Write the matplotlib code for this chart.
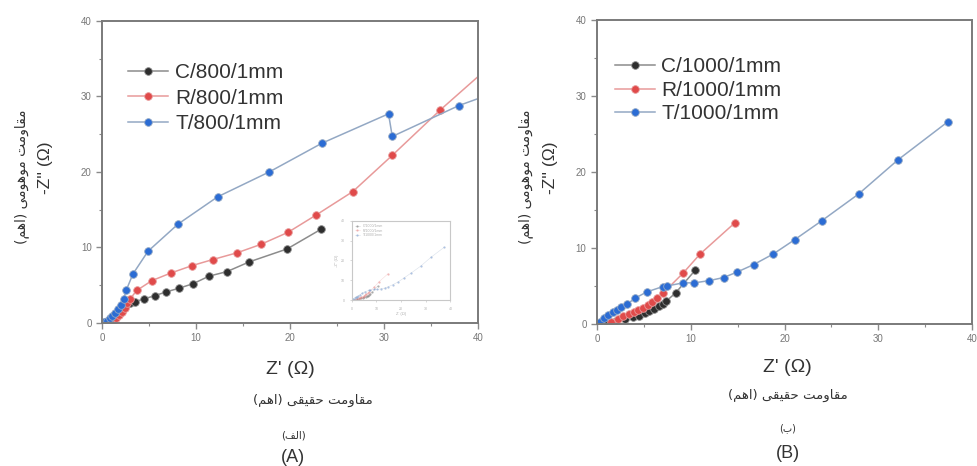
import matplotlib.pyplot as plt

# Panel A: 800 series
c800_x = [0.3, 0.6, 0.9, 1.2, 1.5, 1.8, 2.1, 2.5, 3.0, 3.5, 4.5, 5.6, 6.8, 8.2, 9.7, 11.4, 13.3, 15.7, 19.7, 23.3]
c800_y = [0.1, 0.3, 0.5, 0.8, 1.1, 1.5, 1.9, 2.3, 2.6, 2.8, 3.2, 3.6, 4.1, 4.6, 5.2, 6.2, 6.8, 8.1, 9.8, 12.4]

r800_x = [0.8, 1.2, 1.5, 1.8, 2.1, 2.4, 2.7, 3.0, 3.7, 5.3, 7.3, 9.6, 11.8, 14.4, 16.9, 19.8, 22.8, 26.7, 30.9, 36.0, 42.0]
r800_y = [0.1, 0.3, 0.6, 1.0, 1.5, 2.0, 2.6, 3.2, 4.3, 5.6, 6.6, 7.6, 8.4, 9.3, 10.4, 12.0, 14.3, 17.4, 22.2, 28.2, 34.8]

t800_x = [0.2, 0.5, 0.8, 1.1, 1.4, 1.7, 2.0, 2.3, 2.6, 3.3, 4.9, 8.1, 12.3, 17.8, 23.4, 30.5, 30.9, 38.0, 42.0]
t800_y = [0.1, 0.3, 0.6, 0.9, 1.3, 1.8, 2.4, 3.2, 4.4, 6.5, 9.5, 13.1, 16.7, 20.0, 23.8, 27.7, 24.7, 28.8, 30.6]

# Panel B: 1000 series
c1000_x = [1.0, 2.0, 3.0, 3.8, 4.5, 5.1, 5.6, 6.1, 6.6, 7.0, 7.4, 8.4, 10.5]
c1000_y = [0.1, 0.4, 0.7, 0.9, 1.1, 1.4, 1.7, 2.0, 2.3, 2.6, 3.0, 4.1, 7.1]

r1000_x = [1.5, 2.2, 2.8, 3.4, 3.9, 4.4, 4.9, 5.4, 5.9, 6.4, 7.0, 9.2, 11.0, 14.7]
r1000_y = [0.3, 0.7, 1.0, 1.3, 1.5, 1.8, 2.1, 2.5, 2.9, 3.4, 4.0, 6.7, 9.2, 13.3]

t1000_x = [0.3, 0.7, 1.2, 1.7, 2.1, 2.6, 3.2, 4.1, 5.3, 7.0, 7.5, 9.2, 10.4, 12.0, 13.5, 14.9, 16.7, 18.8, 21.1, 24.0, 27.9, 32.1, 37.4]
t1000_y = [0.3, 0.8, 1.2, 1.5, 1.8, 2.2, 2.6, 3.4, 4.2, 4.9, 5.0, 5.4, 5.4, 5.7, 6.1, 6.8, 7.8, 9.2, 11.1, 13.6, 17.1, 21.6, 26.6]

labels_a = ["C/800/1mm", "R/800/1mm", "T/800/1mm"]
labels_b = ["C/1000/1mm", "R/1000/1mm", "T/1000/1mm"]

# marker colour, line colour
styles = [
    ("#2e2e2e", "#8c8c8c"),
    ("#e04a4a", "#e89a9a"),
    ("#2b6cd4", "#93a8c4"),
]

# --- minimal Persian shaping (presentation forms), then visual order ---
FORMS = {
    "ا": ("\uFE8D", "\uFE8E", None, None),
    "ب": ("\uFE8F", "\uFE90", "\uFE91", "\uFE92"),
    "ت": ("\uFE95", "\uFE96", "\uFE97", "\uFE98"),
    "ح": ("\uFEA1", "\uFEA2", "\uFEA3", "\uFEA4"),
    "ف": ("\uFED1", "\uFED2", "\uFED3", "\uFED4"),
    "ق": ("\uFED5", "\uFED6", "\uFED7", "\uFED8"),
    "ل": ("\uFEDD", "\uFEDE", "\uFEDF", "\uFEE0"),
    "م": ("\uFEE1", "\uFEE2", "\uFEE3", "\uFEE4"),
    "ه": ("\uFEE9", "\uFEEA", "\uFEEB", "\uFEEC"),
    "و": ("\uFEED", "\uFEEE", None, None),
    "ی": ("\uFBFC", "\uFBFD", "\uFBFE", "\uFBFF"),
}


def fa(text):
    out = []
    for i, ch in enumerate(text):
        if ch not in FORMS:
            out.append(ch)
            continue
        prev = text[i - 1] if i > 0 else ""
        nxt = text[i + 1] if i + 1 < len(text) else ""
        join_prev = prev in FORMS and FORMS[prev][2] is not None
        join_next = nxt in FORMS and FORMS[ch][2] is not None
        iso, fin, ini, med = FORMS[ch]
        if join_prev and join_next:
            out.append(med)
        elif join_prev:
            out.append(fin)
        elif join_next:
            out.append(ini)
        else:
            out.append(iso)
    swap = {"(": ")", ")": "("}
    return "".join(swap.get(c, c) for c in reversed(out))


plt.rcParams["font.family"] = ["Liberation Sans", "DejaVu Sans"]
plt.rcParams["text.color"] = "#333333"
FA_FONT = ["DejaVu Sans"]
FRAME = "#7a7a7a"
TICK = "#8a8a8a"

fig = plt.figure(figsize=(9.77, 4.66), dpi=100)
ax1 = fig.add_axes([0.1044, 0.307, 0.3846, 0.648])
ax2 = fig.add_axes([0.611, 0.305, 0.384, 0.652])


def style_axis(ax):
    ax.set_xlim(0, 40)
    ax.set_ylim(0, 40)
    ax.set_xticks([0, 10, 20, 30, 40])
    ax.set_yticks([0, 10, 20, 30, 40])
    ax.set_xticks([5, 15, 25, 35], minor=True)
    ax.set_yticks([5, 15, 25, 35], minor=True)
    for s in ax.spines.values():
        s.set_color(FRAME)
        s.set_linewidth(1.4)
    ax.tick_params(which="major", direction="out", length=4, width=1,
                   colors=TICK, labelsize=7, labelcolor="#777777")
    ax.tick_params(which="minor", direction="out", length=2.5, width=0.8,
                   colors=TICK)


def draw_series(ax, xs, ys, labels, ms=5.5, lw=1.1, alpha=1.0, legend_fs=15,
                legend_kw=None):
    for (x, y), lab, (mc, lc) in zip(zip(xs, ys), labels, styles):
        ax.plot(x, y, color=lc, linewidth=lw, marker="o", markersize=ms,
                markerfacecolor=mc, markeredgecolor=lc, markeredgewidth=0.6,
                label=lab, alpha=alpha)
    ax.legend(**(legend_kw or {}), fontsize=legend_fs, frameon=False)


style_axis(ax1)
draw_series(ax1, [c800_x, r800_x, t800_x], [c800_y, r800_y, t800_y], labels_a,
            legend_kw=dict(loc="upper left", bbox_to_anchor=(0.048, 0.887),
                           handlelength=1.9, handletextpad=0.35,
                           labelspacing=0.3, borderaxespad=0))

style_axis(ax2)
draw_series(ax2, [c1000_x, r1000_x, t1000_x], [c1000_y, r1000_y, t1000_y], labels_b,
            legend_kw=dict(loc="upper left", bbox_to_anchor=(0.027, 0.905),
                           handlelength=1.9, handletextpad=0.3,
                           labelspacing=0.22, borderaxespad=0))

# faded inset in panel A
axin = fig.add_axes([0.36, 0.356, 0.101, 0.170])
axin.set_xlim(0, 40)
axin.set_ylim(0, 40)
axin.set_xticks([0, 10, 20, 30, 40])
axin.set_yticks([0, 10, 20, 30, 40])
for s in axin.spines.values():
    s.set_color("#c8c8c8")
    s.set_linewidth(0.8)
axin.tick_params(direction="out", length=1.5, width=0.5, colors="#c8c8c8",
                 labelsize=2.5, labelcolor="#b0b0b0")
axin.set_xlabel("Z' (Ω)", fontsize=3, color="#b0b0b0", labelpad=1)
axin.set_ylabel("-Z'' (Ω)", fontsize=3, color="#b0b0b0", labelpad=1)
draw_series(axin, [c1000_x, r1000_x, t1000_x], [c1000_y, r1000_y, t1000_y], labels_b,
            ms=1.2, lw=0.4, alpha=0.35, legend_fs=2.5,
            legend_kw=dict(loc="upper left", handlelength=1.5, labelspacing=0.2))
for t in axin.get_legend().get_texts():
    t.set_color("#b0b0b0")

# axis titles
fig.text(0.047, 0.64, "-Z'' (Ω)", rotation=90, ha="center", va="center",
         fontsize=12.5)
fig.text(0.022, 0.62, fa("مقاومت موهومی (اهم)"), rotation=90, ha="center",
         va="center", fontsize=10, family=FA_FONT)
fig.text(0.563, 0.64, "-Z'' (Ω)", rotation=90, ha="center", va="center",
         fontsize=12.5)
fig.text(0.538, 0.62, fa("مقاومت موهومی (اهم)"), rotation=90, ha="center",
         va="center", fontsize=10, family=FA_FONT)

fig.text(0.297, 1 - 370 / 466, "Z' (Ω)", ha="center", va="center", fontsize=14)
fig.text(0.32, 1 - 400 / 466, fa("مقاومت حقیقی (اهم)"), ha="center",
         va="center", fontsize=9.5, family=FA_FONT)
fig.text(0.30, 1 - 436 / 466, fa("(الف)"), ha="center", va="center",
         fontsize=7.5, family=FA_FONT)
fig.text(0.30, 1 - 457 / 466, "(A)", ha="center", va="center", fontsize=13)

fig.text(0.806, 1 - 368 / 466, "Z' (Ω)", ha="center", va="center", fontsize=14)
fig.text(0.806, 1 - 395 / 466, fa("مقاومت حقیقی (اهم)"), ha="center",
         va="center", fontsize=9.5, family=FA_FONT)
fig.text(0.806, 1 - 428 / 466, fa("(ب)"), ha="center", va="center",
         fontsize=7, family=FA_FONT)
fig.text(0.806, 1 - 454 / 466, "(B)", ha="center", va="center", fontsize=13)

fig.savefig("out.png", dpi=100)
